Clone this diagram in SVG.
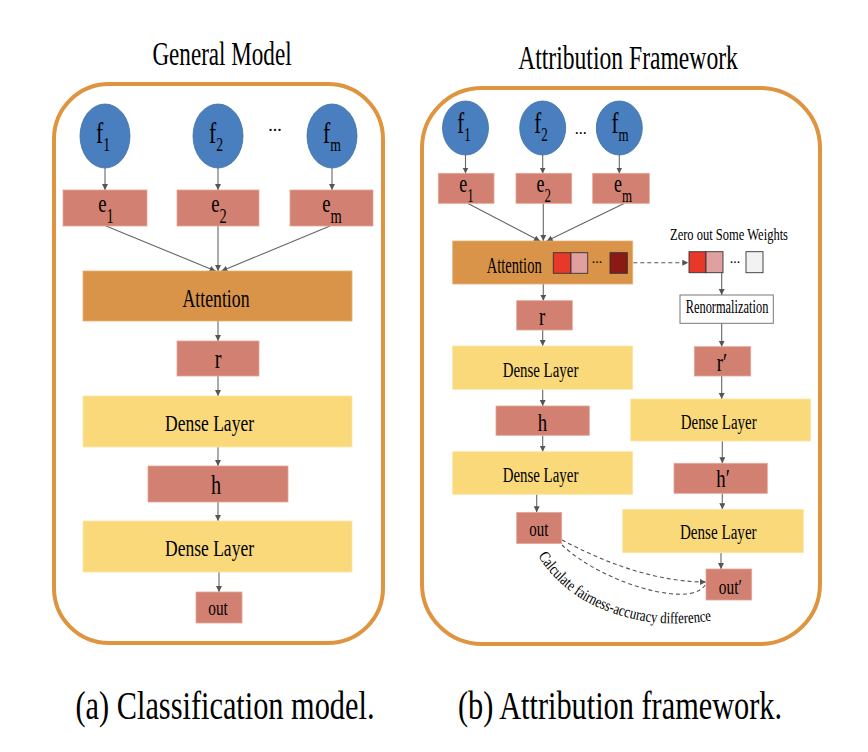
<svg xmlns="http://www.w3.org/2000/svg" width="868" height="752" viewBox="0 0 868 752" font-family="'Liberation Serif', 'Times New Roman', serif">
<defs>
<marker id="ah" markerUnits="userSpaceOnUse" markerWidth="7" markerHeight="7" refX="6" refY="3" orient="auto">
<path d="M0,0 L6,3 L0,6 z" fill="#555"/>
</marker>
<style>
text{fill:#000;}
.panel{fill:#fff;stroke:#DF9440;stroke-width:4;}
.feat{fill:#4A7FBF;stroke:#41709F;stroke-width:0.8;}
.emb{fill:#D28072;stroke:#E3A596;stroke-width:0.8;}
.att{fill:#DA944A;stroke:#E7B077;stroke-width:0.8;}
.dense{fill:#F9D97A;stroke:#FBE6A8;stroke-width:0.8;}
.renorm{fill:#fff;stroke:#777;stroke-width:1;}
.sq{stroke:#333;stroke-width:0.9;}
.conn line,.conn path{stroke:#666;stroke-width:1.1;fill:none;}
.conn .dash{stroke:#555;stroke-dasharray:4 3;}
</style>
</defs>

<rect width="868" height="752" fill="#fff"/>

<g id="titles">
<text transform="translate(222,65) scale(0.70,1)" font-size="33" text-anchor="middle">General Model</text>
<text transform="translate(628,69) scale(0.716,1)" font-size="33" text-anchor="middle">Attribution Framework</text>
<text transform="translate(225,719) scale(0.74,1)" font-size="41" text-anchor="middle">(a) Classification model.</text>
<text transform="translate(620,719) scale(0.74,1)" font-size="41" text-anchor="middle">(b) Attribution framework.</text>
</g>

<g id="panel-a"><rect class="panel" x="54" y="84" width="329" height="559" rx="55"/></g>
<g id="panel-b"><rect class="panel" x="422" y="88" width="398" height="556" rx="60"/></g>

<!-- connectors -->
<g class="conn" id="connectors">
<line x1="105" y1="168" x2="105" y2="190" marker-end="url(#ah)"/>
<line x1="218" y1="168" x2="218" y2="190" marker-end="url(#ah)"/>
<line x1="332" y1="168" x2="332" y2="190" marker-end="url(#ah)"/>
<line x1="106" y1="226" x2="215.5" y2="271" marker-end="url(#ah)"/>
<line x1="218" y1="226" x2="218" y2="271" marker-end="url(#ah)"/>
<line x1="330" y1="226" x2="221.5" y2="271" marker-end="url(#ah)"/>
<line x1="218" y1="321" x2="218" y2="341" marker-end="url(#ah)"/>
<line x1="218" y1="376" x2="218" y2="396" marker-end="url(#ah)"/>
<line x1="218" y1="447" x2="218" y2="466" marker-end="url(#ah)"/>
<line x1="218" y1="502" x2="218" y2="521" marker-end="url(#ah)"/>
<line x1="219" y1="572" x2="219" y2="592" marker-end="url(#ah)"/>

<line x1="465.5" y1="155" x2="465.5" y2="173.5" marker-end="url(#ah)"/>
<line x1="542.7" y1="155" x2="542.7" y2="173.5" marker-end="url(#ah)"/>
<line x1="619.3" y1="155" x2="619.3" y2="173.5" marker-end="url(#ah)"/>
<line x1="468" y1="203.5" x2="540" y2="241" marker-end="url(#ah)"/>
<line x1="543.3" y1="203.5" x2="543.3" y2="241" marker-end="url(#ah)"/>
<line x1="624" y1="203.5" x2="546.7" y2="241" marker-end="url(#ah)"/>
<line x1="543.3" y1="284" x2="543.3" y2="300.7" marker-end="url(#ah)"/>
<line x1="542.7" y1="330" x2="542.7" y2="346" marker-end="url(#ah)"/>
<line x1="542.7" y1="389.3" x2="542.7" y2="406" marker-end="url(#ah)"/>
<line x1="542.7" y1="435.3" x2="542.7" y2="451.7" marker-end="url(#ah)"/>
<line x1="536.7" y1="494.3" x2="536.7" y2="512.3" marker-end="url(#ah)"/>
<line class="dash" x1="633.3" y1="262.7" x2="688.3" y2="262.7" marker-end="url(#ah)"/>
<line x1="721.7" y1="272.7" x2="721.7" y2="295" marker-end="url(#ah)"/>
<line x1="721.7" y1="323.3" x2="721.7" y2="346.7" marker-end="url(#ah)"/>
<line x1="721.7" y1="376" x2="721.7" y2="399" marker-end="url(#ah)"/>
<line x1="722.3" y1="441" x2="722.3" y2="463.3" marker-end="url(#ah)"/>
<line x1="722.3" y1="493.3" x2="722.3" y2="509.3" marker-end="url(#ah)"/>
<line x1="721" y1="552.7" x2="721" y2="569" marker-end="url(#ah)"/>
<path class="dash" d="M562,540 C600,560 652,582 706,582" marker-end="url(#ah)"/>
<path class="dash" d="M562,545 C590,572 650,597 688,594 Q701,592 706,584"/>
</g>

<!-- Panel (a) nodes -->
<g id="a-f1"><ellipse class="feat" cx="105" cy="136" rx="25" ry="32"/>
<text transform="translate(103,143) scale(0.72,1)" font-size="30" text-anchor="middle">f<tspan font-size="19" dy="8">1</tspan></text></g>
<g id="a-f2"><ellipse class="feat" cx="218" cy="136" rx="25" ry="32"/>
<text transform="translate(216,143) scale(0.72,1)" font-size="30" text-anchor="middle">f<tspan font-size="19" dy="8">2</tspan></text></g>
<g id="a-dots"><text x="275" y="131" font-size="18" text-anchor="middle">...</text></g>
<g id="a-fm"><ellipse class="feat" cx="332" cy="136" rx="25" ry="32"/>
<text transform="translate(332,143) scale(0.72,1)" font-size="30" text-anchor="middle">f<tspan font-size="19" dy="8">m</tspan></text></g>

<g id="a-e1"><rect class="emb" x="63" y="190" width="84" height="36"/>
<text transform="translate(106,211.5) scale(0.72,1)" font-size="26" text-anchor="middle">e<tspan font-size="20" dy="11">1</tspan></text></g>
<g id="a-e2"><rect class="emb" x="177" y="190" width="82" height="36"/>
<text transform="translate(219,211.5) scale(0.72,1)" font-size="26" text-anchor="middle">e<tspan font-size="20" dy="11">2</tspan></text></g>
<g id="a-em"><rect class="emb" x="290" y="190" width="83" height="36"/>
<text transform="translate(332,211.5) scale(0.72,1)" font-size="26" text-anchor="middle">e<tspan font-size="20" dy="11">m</tspan></text></g>

<g id="a-attention"><rect class="att" x="83" y="271" width="269" height="50"/>
<text x="216" y="306.5" font-size="25" text-anchor="middle" textLength="67" lengthAdjust="spacingAndGlyphs">Attention</text></g>
<g id="a-r"><rect class="emb" x="177" y="341" width="82" height="35"/>
<text transform="translate(218,368) scale(0.75,1)" font-size="27" text-anchor="middle">r</text></g>
<g id="a-dense1"><rect class="dense" x="83" y="396" width="269" height="51"/>
<text x="209.5" y="431" font-size="23" text-anchor="middle" textLength="89" lengthAdjust="spacingAndGlyphs">Dense Layer</text></g>
<g id="a-h"><rect class="emb" x="148" y="466" width="140" height="36"/>
<text transform="translate(216,494) scale(0.75,1)" font-size="27" text-anchor="middle">h</text></g>
<g id="a-dense2"><rect class="dense" x="83" y="521" width="269" height="51"/>
<text x="209.5" y="556" font-size="23" text-anchor="middle" textLength="89" lengthAdjust="spacingAndGlyphs">Dense Layer</text></g>
<g id="a-out"><rect class="emb" x="196" y="592" width="46" height="31"/>
<text x="218" y="615" font-size="21" text-anchor="middle" textLength="19.5" lengthAdjust="spacingAndGlyphs">out</text></g>

<!-- Panel (b) nodes -->
<g id="b-f1"><ellipse class="feat" cx="465.5" cy="128" rx="23" ry="27"/>
<text transform="translate(464,133.3) scale(0.72,1)" font-size="29" text-anchor="middle">f<tspan font-size="18" dy="8">1</tspan></text></g>
<g id="b-f2"><ellipse class="feat" cx="542.7" cy="128" rx="23" ry="27"/>
<text transform="translate(541,133.3) scale(0.72,1)" font-size="29" text-anchor="middle">f<tspan font-size="18" dy="8">2</tspan></text></g>
<g id="b-dots"><text x="580.7" y="133.5" font-size="16" text-anchor="middle">...</text></g>
<g id="b-fm"><ellipse class="feat" cx="619.3" cy="128" rx="23" ry="27"/>
<text transform="translate(620,133.3) scale(0.72,1)" font-size="29" text-anchor="middle">f<tspan font-size="18" dy="8">m</tspan></text></g>

<g id="b-e1"><rect class="emb" x="438.3" y="173.3" width="55.7" height="30"/>
<text transform="translate(466.5,191.7) scale(0.72,1)" font-size="25" text-anchor="middle">e<tspan font-size="18" dy="10">1</tspan></text></g>
<g id="b-e2"><rect class="emb" x="516" y="173.3" width="55.7" height="30"/>
<text transform="translate(543.7,191.7) scale(0.72,1)" font-size="25" text-anchor="middle">e<tspan font-size="18" dy="10">2</tspan></text></g>
<g id="b-em"><rect class="emb" x="592.7" y="173.3" width="56.6" height="30"/>
<text transform="translate(623,191.7) scale(0.72,1)" font-size="25" text-anchor="middle">e<tspan font-size="18" dy="10">m</tspan></text></g>

<g id="b-attention"><rect class="att" x="452.7" y="241" width="180" height="43"/>
<text x="514.2" y="273.3" font-size="23" text-anchor="middle" textLength="55" lengthAdjust="spacingAndGlyphs">Attention</text>
<rect class="sq" x="553.3" y="252.7" width="17.7" height="20.6" fill="#E8382A"/>
<rect class="sq" x="571" y="252.7" width="16.7" height="20.6" fill="#E0A0A0"/>
<text x="597" y="262.7" font-size="14" text-anchor="middle">...</text>
<rect class="sq" x="610" y="252.7" width="17.3" height="20.6" fill="#8C1A14"/></g>

<g id="b-zero"><text x="729" y="240" font-size="17.5" text-anchor="middle" textLength="118" lengthAdjust="spacingAndGlyphs">Zero out Some Weights</text>
<rect class="sq" x="689" y="251.7" width="17" height="21" fill="#E8382A"/>
<rect class="sq" x="706" y="251.7" width="17" height="21" fill="#E0A0A0"/>
<text x="735" y="262.7" font-size="14" text-anchor="middle">...</text>
<rect class="sq" x="746" y="251.7" width="17" height="21" fill="#F2F2F2"/></g>

<g id="b-renorm"><rect class="renorm" x="680" y="295" width="93.3" height="28.3"/>
<text x="727" y="312.7" font-size="19" text-anchor="middle" textLength="82.7" lengthAdjust="spacingAndGlyphs">Renormalization</text></g>

<g id="b-r"><rect class="emb" x="516.7" y="300.7" width="55.6" height="29.3"/>
<text transform="translate(542,325) scale(0.75,1)" font-size="25" text-anchor="middle">r</text></g>
<g id="b-dense1"><rect class="dense" x="452.7" y="346" width="180" height="43.3"/>
<text x="540.5" y="376.7" font-size="20.5" text-anchor="middle" textLength="75.7" lengthAdjust="spacingAndGlyphs">Dense Layer</text></g>
<g id="b-h"><rect class="emb" x="496" y="406" width="93.3" height="29.3"/>
<text transform="translate(542.5,430.7) scale(0.75,1)" font-size="25" text-anchor="middle">h</text></g>
<g id="b-dense2"><rect class="dense" x="452.7" y="451.7" width="180" height="42.6"/>
<text x="540.5" y="481.7" font-size="20.5" text-anchor="middle" textLength="75.7" lengthAdjust="spacingAndGlyphs">Dense Layer</text></g>
<g id="b-out"><rect class="emb" x="516.7" y="512.5" width="45" height="31"/>
<text x="538.8" y="536" font-size="20" text-anchor="middle" textLength="19" lengthAdjust="spacingAndGlyphs">out</text></g>

<g id="b-rp"><rect class="emb" x="694.3" y="346.7" width="56.4" height="29.3"/>
<text transform="translate(722,371) scale(0.75,1)" font-size="25" text-anchor="middle">r′</text></g>
<g id="b-dense1p"><rect class="dense" x="630.7" y="399" width="180" height="42"/>
<text x="718.7" y="429" font-size="20.5" text-anchor="middle" textLength="76" lengthAdjust="spacingAndGlyphs">Dense Layer</text></g>
<g id="b-hp"><rect class="emb" x="674" y="463.3" width="93.3" height="30"/>
<text transform="translate(723,486.7) scale(0.75,1)" font-size="25" text-anchor="middle">h′</text></g>
<g id="b-dense2p"><rect class="dense" x="622.7" y="509.3" width="180.6" height="43.4"/>
<text x="718.3" y="539.3" font-size="20.5" text-anchor="middle" textLength="76.7" lengthAdjust="spacingAndGlyphs">Dense Layer</text></g>
<g id="b-outp"><rect class="emb" x="706" y="569" width="45.7" height="31"/>
<text x="730.3" y="594" font-size="20" text-anchor="middle" textLength="23" lengthAdjust="spacingAndGlyphs">out′</text></g>

<g id="b-difflabel">
<path id="arcp" d="M538,556 C560,590 590,608 630,618 C660,626 690,624 722,619" fill="none"/>
<text font-size="16" textLength="196" lengthAdjust="spacingAndGlyphs"><textPath href="#arcp">Calculate fairness-accuracy difference</textPath></text>
</g>
</svg>
